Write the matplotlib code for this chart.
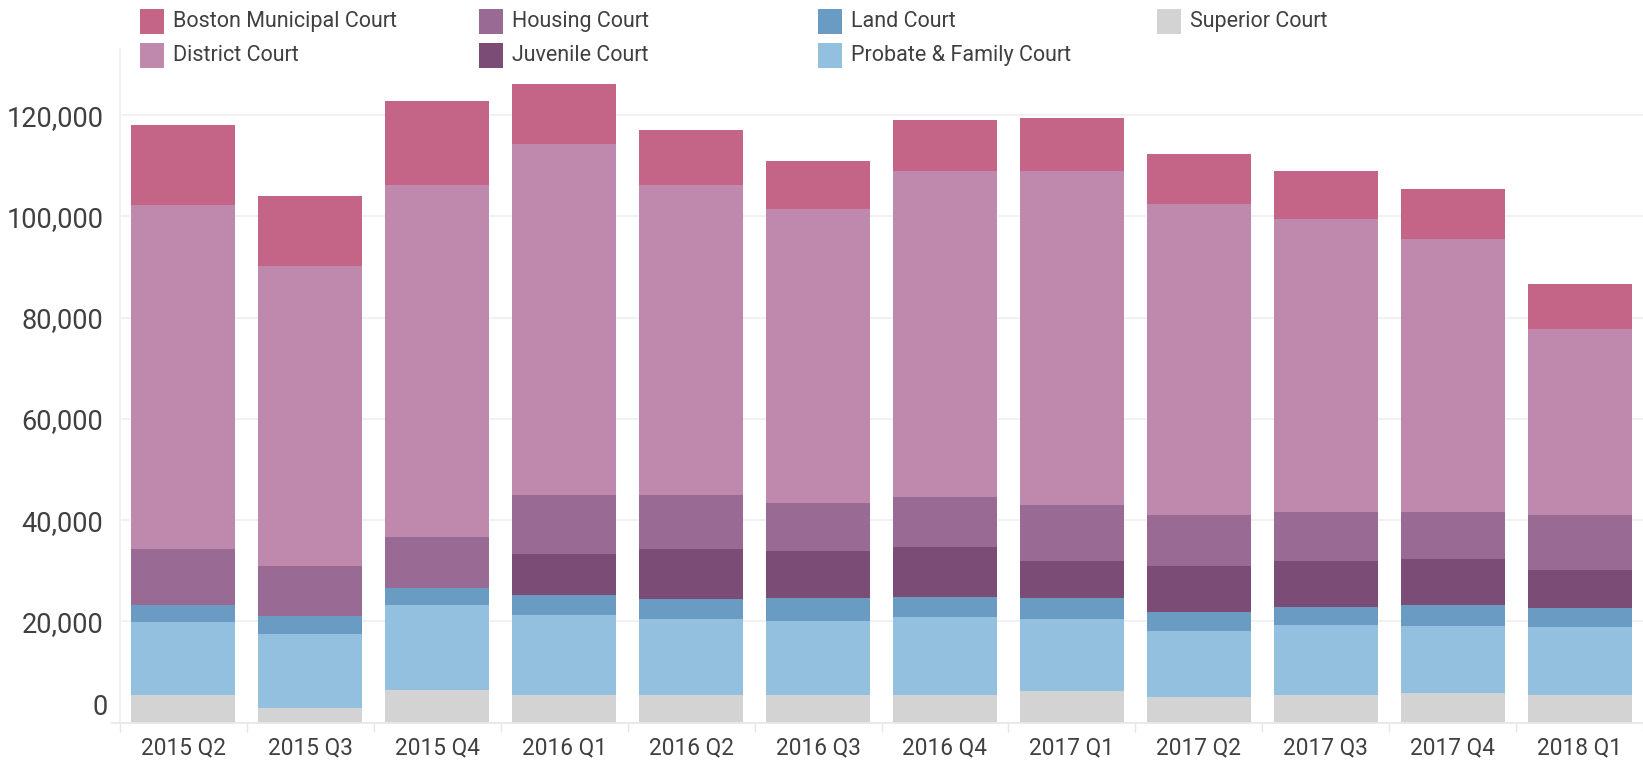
import matplotlib
matplotlib.use("Agg")
import matplotlib.pyplot as plt
from matplotlib.patches import Rectangle
from matplotlib.lines import Line2D
from matplotlib.transforms import offset_copy
import numpy as np

plt.rcParams['font.family'] = ['Roboto', 'DejaVu Sans']

quarters = ['2015 Q2', '2015 Q3', '2015 Q4', '2016 Q1', '2016 Q2', '2016 Q3',
            '2016 Q4', '2017 Q1', '2017 Q2', '2017 Q3', '2017 Q4', '2018 Q1']

superior = [5470, 2900, 6460, 5470, 5470, 5470, 5470, 6260, 5080, 5470, 5870, 5470]
probate = [14420, 14620, 16790, 15800, 15010, 14620, 15410, 14220, 13040, 13830, 13230, 13430]
land = [3360, 3550, 3360, 3950, 3950, 4540, 3950, 4150, 3750, 3550, 4150, 3750]
juvenile = [0, 0, 0, 8100, 9880, 9280, 9880, 7310, 9090, 9090, 9090, 7510]
housing = [11060, 9880, 10070, 11650, 10670, 9480, 9880, 11060, 10070, 9680, 9280, 10860]
district = [67940, 59250, 69520, 69320, 61230, 58070, 64380, 65970, 61420, 57870, 53920, 36740]
bmc = [15800, 13830, 16590, 11850, 10860, 9480, 10070, 10470, 9880, 9480, 9880, 8890]

y_ticks = [0, 20000, 40000, 60000, 80000, 100000, 120000]

# stacking order bottom -> top
series = [
    ('Superior Court', superior, '#D3D3D3'),
    ('Probate & Family Court', probate, '#93C0DF'),
    ('Land Court', land, '#699BC3'),
    ('Juvenile Court', juvenile, '#7B4C76'),
    ('Housing Court', housing, '#996A93'),
    ('District Court', district, '#BF89AD'),
    ('Boston Municipal Court', bmc, '#C46587'),
]
colors = {name: c for name, _, c in series}

W, H = 1643, 761
fig = plt.figure(figsize=(W / 100, H / 100), dpi=100)
fig.patch.set_facecolor('white')

ymax = 133000
zero_y = 722.7
px_per_unit = 1 / 197.5
top_y = zero_y - ymax * px_per_unit
ax = fig.add_axes([120 / W, (H - zero_y) / H, 1 - 120 / W, (zero_y - top_y) / H])

x = np.arange(len(quarters))
bottom = np.zeros(len(quarters))
for name, vals, col in series:
    v = np.array(vals, dtype=float)
    ax.bar(x, v, width=0.82, bottom=bottom, color=col, linewidth=0, zorder=3)
    bottom += v

ax.set_xlim(-0.5, len(quarters) - 0.5)
ax.set_ylim(0, ymax)

grid_c = '#EFEFEF'
ax.set_yticks(y_ticks)
ax.set_yticklabels(['' if t == 0 else f'{t:,}' for t in y_ticks])
ax.yaxis.grid(True, color=grid_c, linewidth=1.2, zorder=0)
ax.set_axisbelow(True)
ax.tick_params(axis='y', length=0, pad=12, labelsize=19.5, labelcolor='#404040')

# zero label shifted up (Tableau style)
ax.text(0, 0, '0', transform=offset_copy(ax.get_yaxis_transform(), fig=fig, x=-12, y=7.7, units='dots'),
        ha='right', va='baseline', fontsize=19.5, color='#404040')

ax.set_xticks(x)
ax.set_xticklabels(quarters)
ax.set_xticks(np.arange(-0.5, len(quarters) + 0.5, 1), minor=True)
ax.tick_params(axis='x', which='major', length=0, pad=10, labelsize=16.3, labelcolor='#404040')
ax.tick_params(axis='x', which='minor', length=6.5, width=1.0, color='#E6E6E6')

for s in ['top', 'right', 'bottom']:
    ax.spines[s].set_visible(False)
ax.spines['left'].set_color(grid_c)
ax.spines['left'].set_linewidth(1.2)

# zero line, extending slightly left of the pane
ax.add_line(Line2D([-8 / (W - 120), 1], [0, 0], transform=ax.get_yaxis_transform(),
                   color='#E8E8E8', linewidth=1.3, clip_on=False, zorder=4))

# legend (column-major layout)
legend_cols = [['Boston Municipal Court', 'District Court'],
               ['Housing Court', 'Juvenile Court'],
               ['Land Court', 'Probate & Family Court'],
               ['Superior Court']]
col_x = [140, 479, 818, 1157]
row_y = [21.5, 55.5]
sw = 24
for ci, names in enumerate(legend_cols):
    for ri, name in enumerate(names):
        x0 = col_x[ci]
        yc = row_y[ri]
        fig.add_artist(Rectangle((x0 / W, 1 - (yc + sw / 2) / H), sw / W, sw / H,
                                 transform=fig.transFigure, facecolor=colors[name],
                                 edgecolor='none'))
        fig.text((x0 + 33) / W, 1 - yc / H, name, ha='left', va='center',
                 fontsize=15.5, color='#404040')

fig.savefig('out.png', dpi=100, facecolor='white')
